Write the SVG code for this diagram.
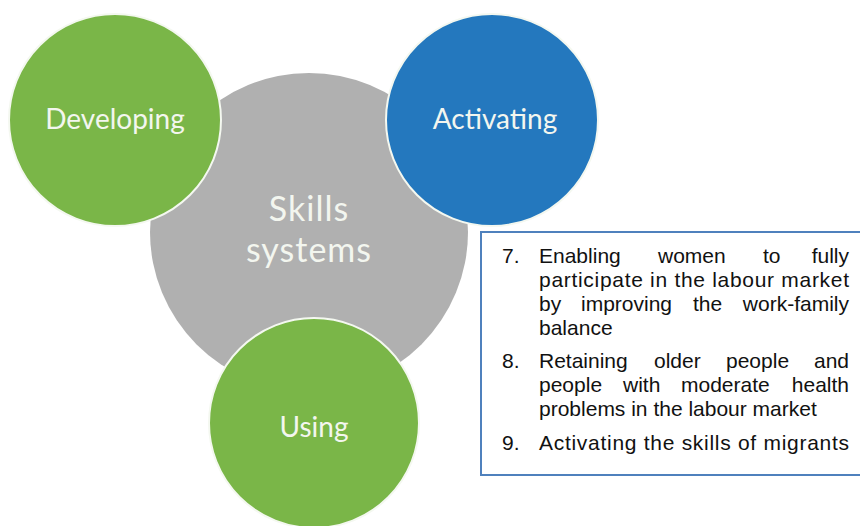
<svg xmlns="http://www.w3.org/2000/svg" width="860" height="526" viewBox="0 0 860 526">
<style>
.c{stroke:#f4f8f0;stroke-width:2}
.lbl{font-family:Lato,"Open Sans",sans-serif;fill:#f3f6ef;text-anchor:middle}
.t{font-family:"Liberation Sans",Arial,sans-serif;font-size:21px;fill:#111}
.e{text-anchor:end}
</style>
<rect width="860" height="526" fill="#fff"/>
<g id="skills">
<circle cx="309" cy="232" r="159" fill="#b0b0b0"/>
<text class="lbl" x="309" y="221" font-size="34" letter-spacing="1">Skills</text>
<text class="lbl" x="309" y="262" font-size="34" letter-spacing="1">systems</text>
</g>
<g id="developing">
<circle class="c" cx="115" cy="120" r="106" fill="#7ab648"/>
<text class="lbl" x="115" y="129" font-size="28">Developing</text>
</g>
<g id="activating">
<circle class="c" cx="492" cy="120" r="106" fill="#2478be"/>
<text class="lbl" x="495" y="129" font-size="28">Activating</text>
</g>
<g id="using">
<circle class="c" cx="314" cy="423" r="105" fill="#7ab648"/>
<text class="lbl" x="314" y="437" font-size="28">Using</text>
</g>
<g id="connectors"></g>
<g id="list">
<rect x="481" y="232" width="382" height="243" fill="#fff" stroke="#4f81bd" stroke-width="2"/>
<text class="t" x="502" y="263">7.</text>
<text class="t" x="539" y="263">Enabling</text>
<text class="t" x="658" y="263">women</text>
<text class="t" x="763" y="263">to</text>
<text class="t e" x="849" y="263">fully</text>
<text class="t" x="539" y="287" textLength="310" lengthAdjust="spacing">participate in the labour market</text>
<text class="t" x="539" y="311">by</text>
<text class="t" x="581" y="311">improving</text>
<text class="t" x="693" y="311">the</text>
<text class="t e" x="849" y="311">work-family</text>
<text class="t" x="539" y="335">balance</text>
<text class="t" x="502" y="368">8.</text>
<text class="t" x="539" y="368">Retaining</text>
<text class="t" x="654" y="368">older</text>
<text class="t" x="726" y="368">people</text>
<text class="t e" x="849" y="368">and</text>
<text class="t" x="539" y="392">people</text>
<text class="t" x="623" y="392">with</text>
<text class="t" x="681" y="392">moderate</text>
<text class="t e" x="849" y="392">health</text>
<text class="t" x="539" y="416">problems in the labour market</text>
<text class="t" x="502" y="450">9.</text>
<text class="t" x="539" y="450" textLength="310" lengthAdjust="spacing">Activating the skills of migrants</text>
</g>
</svg>
